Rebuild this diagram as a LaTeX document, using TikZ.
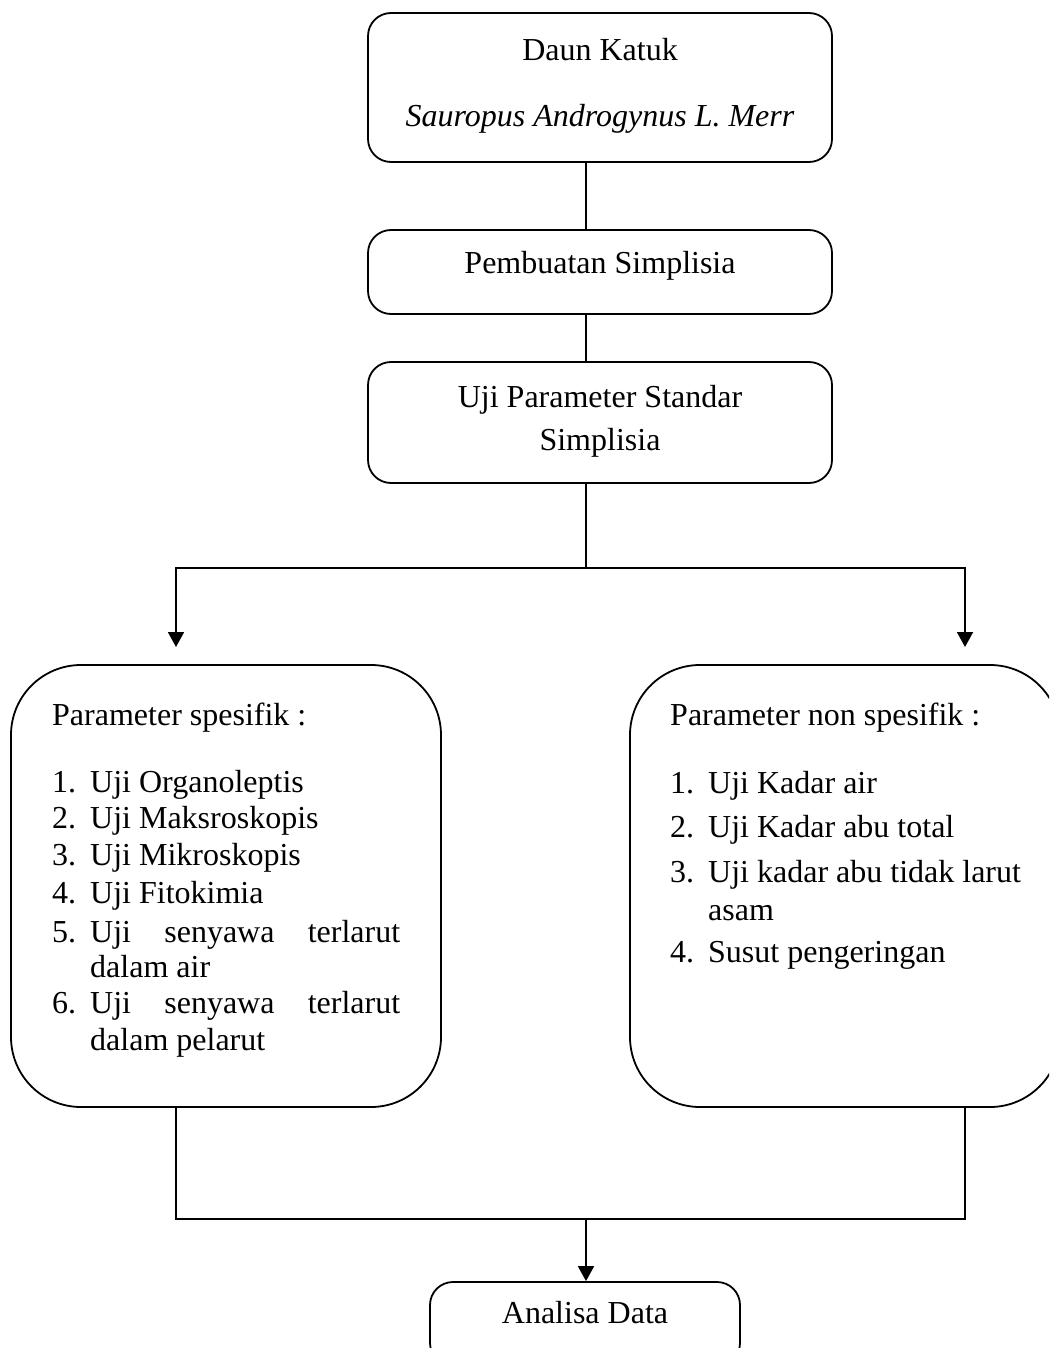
\documentclass[tikz,border=0pt]{standalone}
\usepackage{fontspec}
\setmainfont{Liberation Serif}
\usetikzlibrary{arrows.meta}
\begin{document}
\begin{tikzpicture}[x=1pt,y=-1pt,
  box/.style={draw,line width=1.8pt,rounded corners=23pt,inner sep=0pt},
  bigbox/.style={draw,line width=1.8pt,rounded corners=70pt,inner sep=0pt,minimum width=430pt,minimum height=442pt},
  txt/.style={inner sep=0pt,font=\fontsize{32}{37}\selectfont},
  conn/.style={line width=1.8pt,line join=miter},
  arr/.style={line width=1.8pt,line join=miter,-{Triangle[width=16pt,length=15pt]}}]
\useasboundingbox (0,0) rectangle (1049,1348);
\clip (0,0) rectangle (1049,1348);
% boxes
\node[box,minimum width=464pt,minimum height=149pt] (daun) at (600,87.5) {};
\node[box,minimum width=464pt,minimum height=84pt] (simp) at (600,272) {};
\node[box,minimum width=464pt,minimum height=121pt] (uji) at (600,422.5) {};
\node[bigbox] (spes) at (226,886) {};
\node[bigbox] (nonspes) at (845,886) {};
\node[box,minimum width=310pt,minimum height=84pt] (analisa) at (585,1324) {};
% texts
\node[txt,anchor=base] (t1) at (600,61) {Daun Katuk};
\node[txt,anchor=base] (t2) at (600,127) {\itshape Sauropus Androgynus L. Merr};
\node[txt,anchor=base] (t3) at (600,273) {Pembuatan Simplisia};
\node[txt,anchor=base] (t4) at (600,407) {Uji Parameter Standar};
\node[txt,anchor=base] (t5) at (600,450) {Simplisia};
\node[txt,anchor=base] (t6) at (585,1323) {Analisa Data};
% left list
\node[txt,anchor=base west] (l0) at (52,725) {Parameter spesifik :};
\node[txt,anchor=base west] (l1) at (52,792) {\makebox[38pt][l]{1.}Uji Organoleptis};
\node[txt,anchor=base west] (l2) at (52,828) {\makebox[38pt][l]{2.}Uji Maksroskopis};
\node[txt,anchor=base west] (l3) at (52,865) {\makebox[38pt][l]{3.}Uji Mikroskopis};
\node[txt,anchor=base west] (l4) at (52,903) {\makebox[38pt][l]{4.}Uji Fitokimia};
\node[txt,anchor=base west] (l5) at (52,942) {\makebox[38pt][l]{5.}\makebox[310pt][s]{Uji senyawa terlarut}};
\node[txt,anchor=base west] (l5b) at (90,977) {dalam air};
\node[txt,anchor=base west] (l6) at (52,1013) {\makebox[38pt][l]{6.}\makebox[310pt][s]{Uji senyawa terlarut}};
\node[txt,anchor=base west] (l6b) at (90,1050) {dalam pelarut};
% right list
\node[txt,anchor=base west] (r0) at (670,725) {Parameter non spesifik :};
\node[txt,anchor=base west] (r1) at (670,793) {\makebox[38pt][l]{1.}Uji Kadar air};
\node[txt,anchor=base west] (r2) at (670,837) {\makebox[38pt][l]{2.}Uji Kadar abu total};
\node[txt,anchor=base west] (r3) at (670,882) {\makebox[38pt][l]{3.}Uji kadar abu tidak larut};
\node[txt,anchor=base west] (r3b) at (708,920) {asam};
\node[txt,anchor=base west] (r4) at (670,962) {\makebox[38pt][l]{4.}Susut pengeringan};
% connectors
\coordinate (s1) at (586,0);
\coordinate (split) at (586,568);
\coordinate (lb) at (176,568);
\coordinate (rb) at (965,568);
\coordinate (la) at (176,647);
\coordinate (ra) at (965,647);
\coordinate (jl) at (176,1219);
\coordinate (jr) at (965,1219);
\coordinate (jm) at (586,1219);
\draw[conn] (daun.south -| s1) -- (simp.north -| s1);
\draw[conn] (simp.south -| s1) -- (uji.north -| s1);
\draw[conn] (uji.south -| s1) -- (split);
\draw[arr] (split) -- (lb) -- (la);
\draw[arr] (split) -- (rb) -- (ra);
\draw[conn] (spes.south -| jl) -- (jl) -- (jr) -- (nonspes.south -| jr);
\draw[arr] (jm) -- (analisa.north -| jm);
\end{tikzpicture}
\end{document}
